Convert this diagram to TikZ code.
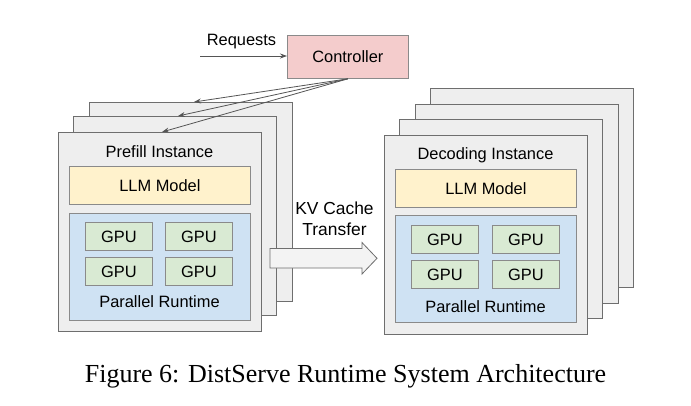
\documentclass[tikz,border=0pt]{standalone}
\usepackage{fontspec}
\setmainfont{Liberation Sans}
\newfontfamily\capfont{Liberation Serif}
\usetikzlibrary{arrows.meta}
\definecolor{edgegray}{HTML}{6E6E6E}
\definecolor{boxedge}{HTML}{8A8A8A}
\definecolor{sheetgray}{HTML}{EEEEEE}
\definecolor{llmfill}{HTML}{FFF2CC}
\definecolor{rtfill}{HTML}{CFE2F3}
\definecolor{gpufill}{HTML}{D9EAD3}
\definecolor{ctrlfill}{HTML}{F4CCCC}
\definecolor{arrowgray}{HTML}{555555}
\definecolor{kvfill}{HTML}{F3F3F3}
\begin{document}
\begin{tikzpicture}[x=1pt,y=-1pt,
  sheet/.style={draw=edgegray, fill=sheetgray, line width=0.9pt, minimum width=203pt, minimum height=199pt, anchor=north west, inner sep=0pt},
  lbl/.style={font=\fontsize{16.4}{19}\selectfont, text height=11.8pt, text depth=0pt, inner sep=0pt},
  kvlbl/.style={font=\fontsize{17.4}{21}\selectfont, text height=12.5pt, text depth=0pt, inner sep=0pt},
  box/.style={lbl, draw=boxedge, line width=0.8pt, anchor=north west},
  llm/.style={box, fill=llmfill, minimum width=181pt, minimum height=38pt},
  rt/.style={box, fill=rtfill, minimum width=181pt, minimum height=107pt},
  gpu/.style={box, fill=gpufill, minimum width=67pt, minimum height=28pt},
  conn/.style={draw=arrowgray, line width=0.8pt, -{Stealth[length=7pt,width=5pt]}},
  blockarrow/.style={draw=edgegray, fill=kvfill, line width=0.8pt, line join=miter}
]
\useasboundingbox (0,0) rectangle (691,405);
\fill[white] (0,0) rectangle (691,405);

% Controller
\node[box, fill=ctrlfill, minimum width=121pt, minimum height=43pt] (ctrl) at (287,35) {Controller};
\node[lbl] (reqlbl) at (241.5,40) {Requests};
\coordinate (req) at (200,56);
\draw[conn] (req) -- (req -| ctrl.west);

% Prefill stack
\node[sheet] (p3) at (89,102) {};
\node[sheet] (p2) at (73,116) {};
\node[sheet] (p1) at (58,132) {};
\node[lbl] (ptitle) at (159.5,152) {Prefill Instance};
\node[llm] (pllm) at (69,166) {LLM Model};
\node[rt] (prt) at (69,213) {};
\node[gpu] (pg1) at (85,222) {GPU};
\node[gpu] (pg2) at (165,222) {GPU};
\node[gpu] (pg3) at (85,257) {GPU};
\node[gpu] (pg4) at (165,257) {GPU};
\node[lbl] (prtl) at (159.5,302) {Parallel Runtime};

% Controller -> prefill sheets
\coordinate (t3) at (194,102);
\coordinate (t2) at (178,116);
\coordinate (t1) at (162,132);
\draw[conn] (ctrl.south) -- (t3);
\draw[conn] (ctrl.south) -- (t2);
\draw[conn] (ctrl.south) -- (t1);

% Decoding stack
\node[sheet] (d4) at (430,88) {};
\node[sheet] (d3) at (415,104) {};
\node[sheet] (d2) at (399,119) {};
\node[sheet] (d1) at (384,135) {};
\node[lbl] (dtitle) at (485.5,154) {Decoding Instance};
\node[llm] (dllm) at (395,169) {LLM Model};
\node[rt] (drt) at (395,215) {};
\node[gpu] (dg1) at (411,225) {GPU};
\node[gpu] (dg2) at (492,225) {GPU};
\node[gpu] (dg3) at (411,260) {GPU};
\node[gpu] (dg4) at (492,260) {GPU};
\node[lbl] (drtl) at (485.5,307) {Parallel Runtime};

% KV cache transfer (block arrow)
\draw[blockarrow] (270,248.5) -- (362,248.5) -- (362,242.5) -- (377,258.3)
  -- (362,274) -- (362,268) -- (270,268) -- cycle;
\node[kvlbl] (kvl1) at (334.5,208) {KV Cache};
\node[kvlbl] (kvl2) at (334.5,229.2) {Transfer};

% Caption
\node[font=\capfont\fontsize{26}{30}\selectfont, inner sep=0pt, anchor=base] (cap) at (345.5,382) {Figure 6: DistServe Runtime System Architecture};
\end{tikzpicture}
\end{document}
